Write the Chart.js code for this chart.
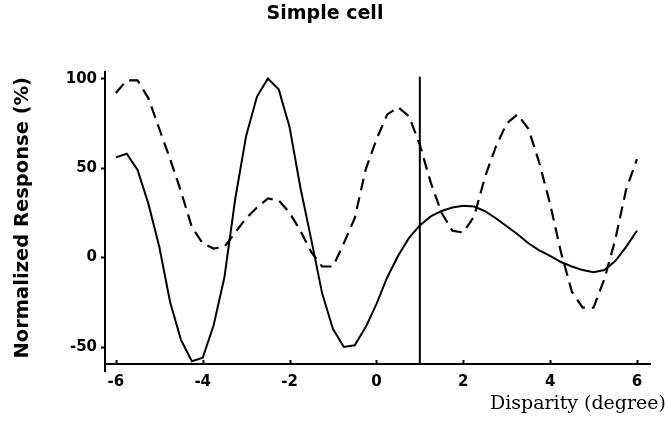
<!DOCTYPE html>
<html>
<head>
<meta charset="utf-8">
<script src="https://cdn.jsdelivr.net/npm/chart.js@4.4.1/dist/chart.umd.min.js"></script>
<style>
  html, body { margin: 0; padding: 0; background: #fff; }
  #wrap { width: 667px; height: 430px; }
</style>
</head>
<body>
<div id="wrap"><canvas id="cell-chart" width="667" height="430"></canvas></div>
<script>
// disparity samples (degree)
var disparity = [-6, -5.75, -5.5, -5.25, -5, -4.75, -4.5, -4.25, -4, -3.75, -3.5, -3.25,
    -3, -2.75, -2.5, -2.25, -2, -1.75, -1.5, -1.25, -1, -0.75, -0.5, -0.25,
    0, 0.25, 0.5, 0.75, 1, 1.25, 1.5, 1.75, 2, 2.25, 2.5, 2.75,
    3, 3.25, 3.5, 3.75, 4, 4.25, 4.5, 4.75, 5, 5.25, 5.5, 5.75, 6];
// normalized response (%) - solid curve
var solidResp = [56, 58, 49, 30, 6, -25, -46, -58, -56, -38, -11, 33,
    68, 90, 100, 94, 73, 39, 10, -20, -40, -50, -49, -39,
    -26, -11, 1, 11, 18, 23, 26, 28, 29, 28.5, 26, 22,
    17.5, 13, 8, 4, 1, -2.5, -5, -7, -8.2, -7, -2, 6, 15];
// normalized response (%) - dashed curve
var dashedResp = [92, 99, 99, 89, 72, 55, 37, 17, 8, 5, 6, 14,
    22, 28, 33, 32, 25, 15, 3, -5, -5, 8, 22, 49,
    66, 80, 84, 79, 63, 42, 25, 15, 14, 23, 45, 62,
    75, 80, 72, 53, 30, 3, -19, -28, -28, -12, 10, 38, 55];
// vertical marker at disparity 1
var markerX = [1, 1];
var markerY = [-59.5, 101];

var xTicks = [-6, -4, -2, 0, 2, 4, 6];
var yTicks = [-50, 0, 50, 100];

function pts(xs, ys) {
    return xs.map(function(x, i) { return {x: x, y: ys[i]}; });
}

var extras = {
    id: 'extras',
    afterDraw: function(chart) {
        var c = chart.ctx, xs = chart.scales.x, a = chart.chartArea;
        c.save();
        c.strokeStyle = '#000';
        c.lineWidth = 2;
        // inward ticks on x axis
        xTicks.forEach(function(v) {
            var px = Math.round(xs.getPixelForValue(v)) + 0.5;
            c.beginPath();
            c.moveTo(px, a.bottom);
            c.lineTo(px, a.bottom - 4);
            c.stroke();
        });
        // y axis runs a little below the x axis
        c.beginPath();
        c.moveTo(a.left, a.bottom);
        c.lineTo(a.left, a.bottom + 8);
        c.stroke();
        // x axis title, right aligned
        c.fillStyle = '#000';
        c.font = '19px "DejaVu Serif"';
        c.textAlign = 'right';
        c.textBaseline = 'alphabetic';
        c.fillText('Disparity (degree)', 666, 409);
        c.restore();
    }
};

var ctx = document.getElementById('cell-chart');
var myChart = new Chart(ctx, {
    type: 'line',
    data: {
        datasets: [{
            label: 'solid',
            data: pts(disparity, solidResp),
            borderColor: '#000',
            borderWidth: 2,
            pointRadius: 0,
            tension: 0
        }, {
            label: 'dashed',
            data: pts(disparity, dashedResp),
            borderColor: '#000',
            borderWidth: 2.2,
            borderDash: [12, 7],
            pointRadius: 0,
            tension: 0
        }, {
            label: 'marker',
            data: pts(markerX, markerY),
            borderColor: '#000',
            borderWidth: 2,
            pointRadius: 0
        }]
    },
    plugins: [extras],
    options: {
        responsive: false,
        animation: false,
        layout: { padding: { left: 0, right: 17, top: 0, bottom: 0 } },
        plugins: {
            legend: { display: false },
            tooltip: { enabled: false },
            title: {
                display: true,
                text: 'Simple cell',
                color: '#000',
                font: { family: 'DejaVu Sans', size: 19, weight: 'bold' },
                padding: { top: 3, bottom: 45.7 }
            }
        },
        scales: {
            x: {
                type: 'linear',
                min: -6.25,
                max: 6.3,
                afterBuildTicks: function(s) { s.ticks = xTicks.map(function(v) { return {value: v}; }); },
                afterFit: function(s) { s.height = 66; },
                border: { display: true, color: '#000', width: 2 },
                grid: { drawOnChartArea: false, drawTicks: false },
                ticks: {
                    color: '#000',
                    padding: 9,
                    maxRotation: 0,
                    font: { family: 'DejaVu Sans', size: 15, weight: 'bold' }
                }
            },
            y: {
                min: -59.5,
                max: 104,
                afterBuildTicks: function(s) { s.ticks = yTicks.map(function(v) { return {value: v}; }); },
                afterFit: function(s) { s.width = 105; },
                border: { display: true, color: '#000', width: 2 },
                grid: { drawOnChartArea: false, drawTicks: true, tickLength: 4, tickColor: '#000', tickWidth: 2 },
                ticks: {
                    color: '#000',
                    padding: 4,
                    font: { family: 'DejaVu Sans', size: 15, weight: 'bold' }
                },
                title: {
                    display: true,
                    text: 'Normalized Response (%)',
                    color: '#000',
                    padding: { top: 11, bottom: 0 },
                    font: { family: 'DejaVu Sans', size: 19.5, weight: 'bold' }
                }
            }
        }
    }
});
</script>
</body>
</html>
